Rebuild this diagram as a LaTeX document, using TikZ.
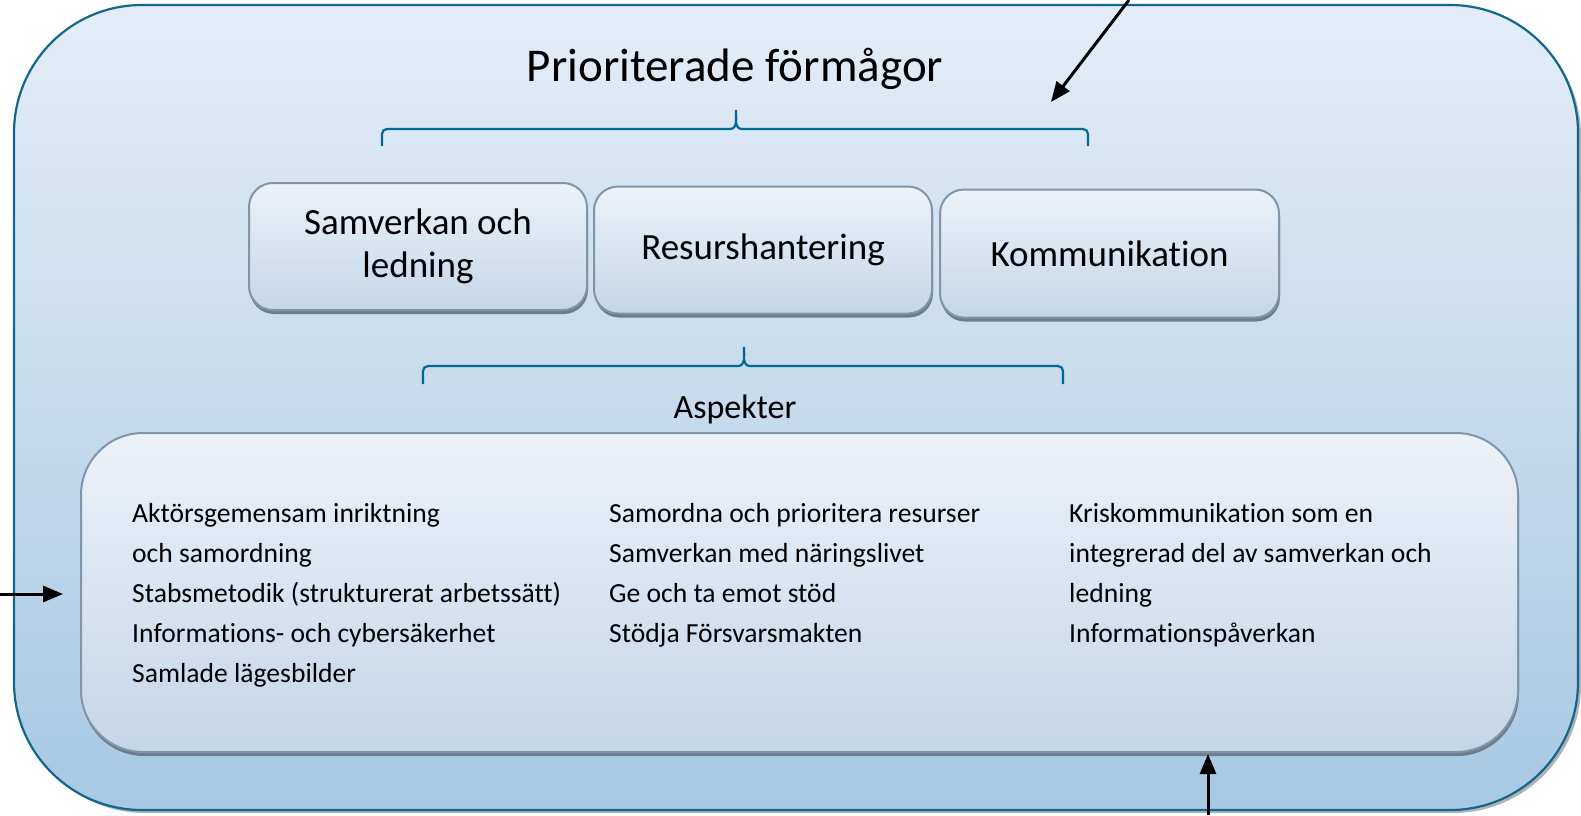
\documentclass[tikz,border=0pt]{standalone}
\usepackage{fontspec}
\setmainfont{Carlito}[Ligatures=NoCommon]
\usetikzlibrary{arrows.meta,shadows}
\definecolor{frameline}{RGB}{18,104,140}
\definecolor{frametop}{RGB}{228,237,247}
\definecolor{framebot}{RGB}{167,200,227}
\definecolor{boxline}{RGB}{128,149,168}
\definecolor{boxtop}{RGB}{237,242,249}
\definecolor{boxbot}{RGB}{195,214,232}
\definecolor{boxshade}{RGB}{108,126,142}
\definecolor{braceline}{RGB}{0,106,146}
\begin{document}
\begin{tikzpicture}[x=1pt,y=-1pt,
	framebox/.style={draw=frameline,line width=2.2pt,rounded corners=128pt,top color=frametop,bottom color=framebot,
		minimum width=1564pt,minimum height=805pt,general shadow={fill=black!30,shadow xshift=3pt,shadow yshift=-3pt}},
	capbox/.style={draw=boxline,line width=2pt,rounded corners=24pt,top color=boxtop,bottom color=boxbot,
		minimum width=338pt,minimum height=127pt,inner sep=0pt,align=center,font=\fontsize{37}{43}\selectfont,
		general shadow={fill=boxshade,shadow xshift=1pt,shadow yshift=-4pt}},
	aspbox/.style={draw=boxline,line width=2pt,rounded corners=62pt,top color=boxtop,bottom color=boxbot,
		minimum width=1437pt,minimum height=319pt,general shadow={fill=boxshade,shadow xshift=1pt,shadow yshift=-4pt}},
	asptext/.style={anchor=base west,inner sep=0pt,font=\fontsize{27.6}{40}\selectfont},
	braceline/.style={draw=braceline,line width=2.2pt},
	pointer/.style={draw=black,line width=3pt,-{Triangle[length=20pt,width=16pt]}}]
	\useasboundingbox (0,0) rectangle (1581,815);
	\node[framebox] (frame) at (796,407.5) {};
	\node[anchor=base,font=\fontsize{47}{56}\selectfont] (title) at (735,81) {Prioriterade förmågor};
	% brace over the three boxes
	\draw[braceline] (382,146) -- (382,134) to[out=90,in=180] (387,129) -- (730,129) to[out=0,in=-90] (736,110)
		to[out=-90,in=180] (742,129) -- (1083,129) to[out=0,in=90] (1088,134) -- (1088,146);
	\node[capbox] (samv) at (418,246.5) {Samverkan och\\ledning};
	\node[capbox] (resurs) at (763,250) {Resurshantering};
	\node[capbox,minimum width=339pt,minimum height=128pt] (komm) at (1109.5,253.5) {Kommunikation};
	% brace over the aspects
	\draw[braceline] (423,384) -- (423,371) to[out=90,in=180] (428,366) -- (738,366) to[out=0,in=-90] (744,347)
		to[out=-90,in=180] (750,366) -- (1058,366) to[out=0,in=90] (1063,371) -- (1063,384);
	\node[anchor=base,font=\fontsize{34}{40}\selectfont] (aspekter) at (735,418) {Aspekter};
	\node[aspbox] (asp) at (799.5,592.5) {};
	\foreach \txt [count=\i] in {Aktörsgemensam inriktning,och samordning,{Stabsmetodik (strukturerat arbetssätt)},Informations- och cybersäkerhet,Samlade lägesbilder}
		\node[asptext] (sl-\i) at (132,482+40*\i) {\txt};
	\foreach \txt [count=\i] in {Samordna och prioritera resurser,Samverkan med näringslivet,Ge och ta emot stöd,Stödja Försvarsmakten}
		\node[asptext] (rh-\i) at (609,482+40*\i) {\txt};
	\foreach \txt [count=\i] in {Kriskommunikation som en,integrerad del av samverkan och,ledning,Informationspåverkan}
		\node[asptext] (ko-\i) at (1069,482+40*\i) {\txt};
	% arrows coming in from outside
	\coordinate (topsrc) at (1129,0);
	\coordinate (toptip) at (1051,102);
	\coordinate (leftsrc) at (0,594);
	\coordinate (lefttip) at (63,594);
	\coordinate (botsrc) at (1208,815);
	\coordinate (bottip) at (1208,754);
	\draw[pointer] (topsrc) -- (toptip);
	\draw[pointer] (leftsrc) -- (lefttip);
	\draw[pointer] (botsrc) -- (bottip);
\end{tikzpicture}
\end{document}
